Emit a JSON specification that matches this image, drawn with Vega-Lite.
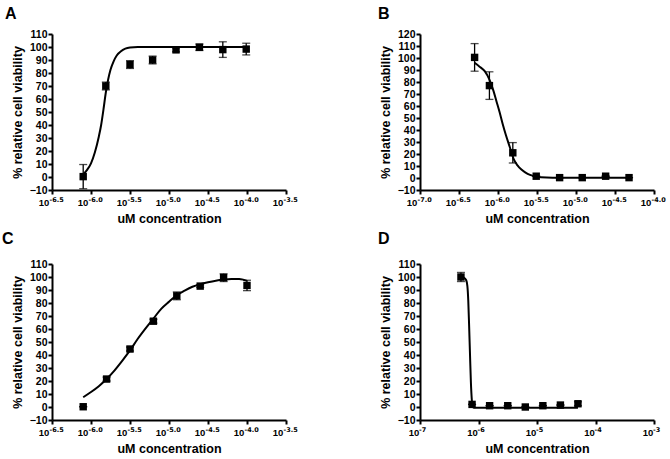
{
  "$schema": "https://vega.github.io/schema/vega-lite/v6.json",
  "background": "white",
  "padding": {"left": 2, "top": 5, "right": 5, "bottom": 5},
  "config": {
    "view": {"stroke": null},
    "font": "Liberation Sans",
    "axis": {
      "grid": false,
      "domainColor": "black",
      "domainWidth": 2,
      "tickColor": "black",
      "tickWidth": 2,
      "tickSize": 4,
      "labelFont": "Liberation Sans",
      "labelFontWeight": "bold",
      "labelFontSize": 10.5,
      "labelColor": "black",
      "labelPadding": 1,
      "titleFont": "Liberation Sans",
      "titleFontWeight": "bold",
      "titleFontSize": 12.5,
      "titleColor": "black"
    },
    "axisX": {"labelPadding": 3, "titlePadding": 6, "labelFlush": false, "labelOverlap": false, "labelFontSize": 9.5, "labelExpr": "'10'"},
    "axisY": {"titlePadding": 5, "labelOverlap": false},
    "title": {"font": "Liberation Sans", "fontSize": 16, "fontWeight": "bold", "anchor": "start", "frame": "group", "color": "black"}
  },
  "datasets": {
    "pts": [
      {"panel": "A", "logc": -6.1, "v": 0.3, "err": 9.3},
      {"panel": "A", "logc": -5.81, "v": 70, "err": 3},
      {"panel": "A", "logc": -5.5, "v": 86.5, "err": 3},
      {"panel": "A", "logc": -5.21, "v": 90, "err": 3},
      {"panel": "A", "logc": -4.91, "v": 97.8, "err": 1.5},
      {"panel": "A", "logc": -4.61, "v": 99.8, "err": 2.5},
      {"panel": "A", "logc": -4.31, "v": 98, "err": 6},
      {"panel": "A", "logc": -4.01, "v": 98.4, "err": 4.5},
      {"panel": "B", "logc": -6.3, "v": 100.5, "err": 11.5},
      {"panel": "B", "logc": -6.11, "v": 77, "err": 11.5},
      {"panel": "B", "logc": -5.81, "v": 21, "err": 8.5},
      {"panel": "B", "logc": -5.51, "v": 1.5, "err": 0},
      {"panel": "B", "logc": -5.21, "v": 0.3, "err": 0},
      {"panel": "B", "logc": -4.92, "v": 0.3, "err": 0},
      {"panel": "B", "logc": -4.62, "v": 1.5, "err": 0},
      {"panel": "B", "logc": -4.32, "v": 0.3, "err": 0},
      {"panel": "C", "logc": -6.1, "v": 0.2, "err": 0},
      {"panel": "C", "logc": -5.8, "v": 21.5, "err": 1.5},
      {"panel": "C", "logc": -5.5, "v": 44.6, "err": 1.5},
      {"panel": "C", "logc": -5.2, "v": 66, "err": 1.5},
      {"panel": "C", "logc": -4.9, "v": 85.5, "err": 3},
      {"panel": "C", "logc": -4.6, "v": 93, "err": 1},
      {"panel": "C", "logc": -4.3, "v": 99.5, "err": 3},
      {"panel": "C", "logc": -4.0, "v": 93.5, "err": 4},
      {"panel": "D", "logc": -6.3, "v": 100, "err": 3.5},
      {"panel": "D", "logc": -6.11, "v": 2, "err": 0},
      {"panel": "D", "logc": -5.81, "v": 1, "err": 0},
      {"panel": "D", "logc": -5.5, "v": 1, "err": 0},
      {"panel": "D", "logc": -5.2, "v": 0, "err": 0},
      {"panel": "D", "logc": -4.9, "v": 1, "err": 0},
      {"panel": "D", "logc": -4.6, "v": 1.5, "err": 0},
      {"panel": "D", "logc": -4.3, "v": 2.5, "err": 1.5}
    ],
    "curve": [
      {"panel": "A", "logc": -6.1, "v": 2},
      {"panel": "A", "logc": -6.05, "v": 5.5},
      {"panel": "A", "logc": -6.0, "v": 10.5},
      {"panel": "A", "logc": -5.95, "v": 19},
      {"panel": "A", "logc": -5.9, "v": 31},
      {"panel": "A", "logc": -5.87, "v": 40},
      {"panel": "A", "logc": -5.84, "v": 52},
      {"panel": "A", "logc": -5.81, "v": 65},
      {"panel": "A", "logc": -5.78, "v": 75},
      {"panel": "A", "logc": -5.75, "v": 82.5},
      {"panel": "A", "logc": -5.71, "v": 89},
      {"panel": "A", "logc": -5.67, "v": 93.5},
      {"panel": "A", "logc": -5.62, "v": 96.5},
      {"panel": "A", "logc": -5.56, "v": 98.7},
      {"panel": "A", "logc": -5.5, "v": 99.6},
      {"panel": "A", "logc": -5.4, "v": 100},
      {"panel": "A", "logc": -4.0, "v": 100},
      {"panel": "B", "logc": -6.3, "v": 96},
      {"panel": "B", "logc": -6.24, "v": 93},
      {"panel": "B", "logc": -6.17, "v": 89},
      {"panel": "B", "logc": -6.11, "v": 82},
      {"panel": "B", "logc": -6.06, "v": 73},
      {"panel": "B", "logc": -6.02, "v": 64},
      {"panel": "B", "logc": -5.98, "v": 55},
      {"panel": "B", "logc": -5.94, "v": 45},
      {"panel": "B", "logc": -5.9, "v": 36},
      {"panel": "B", "logc": -5.85, "v": 26},
      {"panel": "B", "logc": -5.8, "v": 16},
      {"panel": "B", "logc": -5.75, "v": 10.5},
      {"panel": "B", "logc": -5.7, "v": 7},
      {"panel": "B", "logc": -5.62, "v": 3.5},
      {"panel": "B", "logc": -5.55, "v": 1.8},
      {"panel": "B", "logc": -5.45, "v": 0.7},
      {"panel": "B", "logc": -5.3, "v": 0.3},
      {"panel": "B", "logc": -4.32, "v": 0.3},
      {"panel": "C", "logc": -6.1, "v": 7.5},
      {"panel": "C", "logc": -6.0, "v": 11.5},
      {"panel": "C", "logc": -5.9, "v": 16},
      {"panel": "C", "logc": -5.8, "v": 21.5},
      {"panel": "C", "logc": -5.7, "v": 28},
      {"panel": "C", "logc": -5.6, "v": 35.5},
      {"panel": "C", "logc": -5.5, "v": 43.5},
      {"panel": "C", "logc": -5.4, "v": 52.5},
      {"panel": "C", "logc": -5.3, "v": 60.5},
      {"panel": "C", "logc": -5.2, "v": 68},
      {"panel": "C", "logc": -5.1, "v": 75.5},
      {"panel": "C", "logc": -5.0, "v": 81},
      {"panel": "C", "logc": -4.9, "v": 86},
      {"panel": "C", "logc": -4.8, "v": 89.5},
      {"panel": "C", "logc": -4.7, "v": 92.5},
      {"panel": "C", "logc": -4.6, "v": 94.5},
      {"panel": "C", "logc": -4.5, "v": 96},
      {"panel": "C", "logc": -4.4, "v": 97.2},
      {"panel": "C", "logc": -4.3, "v": 98},
      {"panel": "C", "logc": -4.2, "v": 98.5},
      {"panel": "C", "logc": -4.1, "v": 98.5},
      {"panel": "C", "logc": -4.05, "v": 98},
      {"panel": "C", "logc": -4.0, "v": 97},
      {"panel": "D", "logc": -6.3, "v": 100},
      {"panel": "D", "logc": -6.25, "v": 99.5},
      {"panel": "D", "logc": -6.21, "v": 97.5},
      {"panel": "D", "logc": -6.19, "v": 93},
      {"panel": "D", "logc": -6.175, "v": 82},
      {"panel": "D", "logc": -6.16, "v": 62},
      {"panel": "D", "logc": -6.145, "v": 40},
      {"panel": "D", "logc": -6.13, "v": 19},
      {"panel": "D", "logc": -6.115, "v": 6},
      {"panel": "D", "logc": -6.1, "v": 0.5},
      {"panel": "D", "logc": -6.08, "v": -0.5},
      {"panel": "D", "logc": -4.3, "v": -0.5}
    ],
    "expos": [
      {"panel": "A", "logc": -6.5, "lab": "-6.5", "base": -10},
      {"panel": "A", "logc": -6.0, "lab": "-6.0", "base": -10},
      {"panel": "A", "logc": -5.5, "lab": "-5.5", "base": -10},
      {"panel": "A", "logc": -5.0, "lab": "-5.0", "base": -10},
      {"panel": "A", "logc": -4.5, "lab": "-4.5", "base": -10},
      {"panel": "A", "logc": -4.0, "lab": "-4.0", "base": -10},
      {"panel": "A", "logc": -3.5, "lab": "-3.5", "base": -10},
      {"panel": "B", "logc": -7.0, "lab": "-7.0", "base": -10},
      {"panel": "B", "logc": -6.5, "lab": "-6.5", "base": -10},
      {"panel": "B", "logc": -6.0, "lab": "-6.0", "base": -10},
      {"panel": "B", "logc": -5.5, "lab": "-5.5", "base": -10},
      {"panel": "B", "logc": -5.0, "lab": "-5.0", "base": -10},
      {"panel": "B", "logc": -4.5, "lab": "-4.5", "base": -10},
      {"panel": "B", "logc": -4.0, "lab": "-4.0", "base": -10},
      {"panel": "C", "logc": -6.5, "lab": "-6.5", "base": -10},
      {"panel": "C", "logc": -6.0, "lab": "-6.0", "base": -10},
      {"panel": "C", "logc": -5.5, "lab": "-5.5", "base": -10},
      {"panel": "C", "logc": -5.0, "lab": "-5.0", "base": -10},
      {"panel": "C", "logc": -4.5, "lab": "-4.5", "base": -10},
      {"panel": "C", "logc": -4.0, "lab": "-4.0", "base": -10},
      {"panel": "C", "logc": -3.5, "lab": "-3.5", "base": -10},
      {"panel": "D", "logc": -7, "lab": "-7", "base": -10},
      {"panel": "D", "logc": -6, "lab": "-6", "base": -10},
      {"panel": "D", "logc": -5, "lab": "-5", "base": -10},
      {"panel": "D", "logc": -4, "lab": "-4", "base": -10},
      {"panel": "D", "logc": -3, "lab": "-3", "base": -10}
    ]
  },
  "columns": 2,
  "spacing": {"row": 74, "column": 134},
  "bounds": "flush",
  "align": "all",
  "concat": [
    {
      "width": 234, "height": 156,
      "title": {"text": "A", "dx": -47, "offset": 7.5},
      "encoding": {
        "x": {"field": "logc", "type": "quantitative", "title": "uM concentration", "scale": {"domain": [-6.5, -3.5], "nice": false, "zero": false},
              "axis": {"values": [-6.5, -6, -5.5, -5, -4.5, -4, -3.5], "labelOffset": -8.5}},
        "y": {"field": "v", "type": "quantitative", "title": "% relative cell viability", "scale": {"domain": [-10, 110], "nice": false, "zero": false},
              "axis": {"values": [-10, 0, 10, 20, 30, 40, 50, 60, 70, 80, 90, 100, 110]}}
      },
      "layer": [
        {"data": {"name": "curve"}, "transform": [{"filter": "datum.panel === 'A'"}],
         "mark": {"type": "line", "color": "black", "strokeWidth": 2, "interpolate": "monotone"}},
        {"data": {"name": "pts"}, "transform": [{"filter": "datum.panel === 'A'"}],
         "mark": {"type": "errorbar", "ticks": {"size": 8}, "thickness": 1.3, "color": "black"},
         "encoding": {"yError": {"field": "err"}}},
        {"data": {"name": "pts"}, "transform": [{"filter": "datum.panel === 'A'"}],
         "mark": {"type": "point", "shape": "square", "filled": true, "color": "black", "opacity": 1, "size": 55}},
        {"data": {"name": "expos"}, "transform": [{"filter": "datum.panel === 'A'"}],
         "mark": {"type": "text", "align": "left", "baseline": "top", "dx": -2.5, "dy": 6.5, "font": "DejaVu Sans", "fontWeight": "bold", "fontSize": 6.5, "color": "black"},
         "encoding": {"y": {"field": "base", "type": "quantitative", "title": "% relative cell viability"}, "text": {"field": "lab", "type": "nominal"}}}
      ]
    },
    {
      "width": 234, "height": 156,
      "title": {"text": "B", "dx": -42, "offset": 7.5},
      "encoding": {
        "x": {"field": "logc", "type": "quantitative", "title": "uM concentration", "scale": {"domain": [-7, -4], "nice": false, "zero": false},
              "axis": {"values": [-7, -6.5, -6, -5.5, -5, -4.5, -4], "labelOffset": -8.5}},
        "y": {"field": "v", "type": "quantitative", "title": "% relative cell viability", "scale": {"domain": [-10, 120], "nice": false, "zero": false},
              "axis": {"values": [-10, 0, 10, 20, 30, 40, 50, 60, 70, 80, 90, 100, 110, 120]}}
      },
      "layer": [
        {"data": {"name": "curve"}, "transform": [{"filter": "datum.panel === 'B'"}],
         "mark": {"type": "line", "color": "black", "strokeWidth": 2, "interpolate": "monotone"}},
        {"data": {"name": "pts"}, "transform": [{"filter": "datum.panel === 'B'"}],
         "mark": {"type": "errorbar", "ticks": {"size": 8}, "thickness": 1.3, "color": "black"},
         "encoding": {"yError": {"field": "err"}}},
        {"data": {"name": "pts"}, "transform": [{"filter": "datum.panel === 'B'"}],
         "mark": {"type": "point", "shape": "square", "filled": true, "color": "black", "opacity": 1, "size": 55}},
        {"data": {"name": "expos"}, "transform": [{"filter": "datum.panel === 'B'"}],
         "mark": {"type": "text", "align": "left", "baseline": "top", "dx": -2.5, "dy": 6.5, "font": "DejaVu Sans", "fontWeight": "bold", "fontSize": 6.5, "color": "black"},
         "encoding": {"y": {"field": "base", "type": "quantitative", "title": "% relative cell viability"}, "text": {"field": "lab", "type": "nominal"}}}
      ]
    },
    {
      "width": 234, "height": 156,
      "title": {"text": "C", "dx": -50, "offset": 12.5},
      "encoding": {
        "x": {"field": "logc", "type": "quantitative", "title": "uM concentration", "scale": {"domain": [-6.5, -3.5], "nice": false, "zero": false},
              "axis": {"values": [-6.5, -6, -5.5, -5, -4.5, -4, -3.5], "labelOffset": -8.5}},
        "y": {"field": "v", "type": "quantitative", "title": "% relative cell viability", "scale": {"domain": [-10, 110], "nice": false, "zero": false},
              "axis": {"values": [-10, 0, 10, 20, 30, 40, 50, 60, 70, 80, 90, 100, 110]}}
      },
      "layer": [
        {"data": {"name": "curve"}, "transform": [{"filter": "datum.panel === 'C'"}],
         "mark": {"type": "line", "color": "black", "strokeWidth": 2, "interpolate": "monotone"}},
        {"data": {"name": "pts"}, "transform": [{"filter": "datum.panel === 'C'"}],
         "mark": {"type": "errorbar", "ticks": {"size": 8}, "thickness": 1.3, "color": "black"},
         "encoding": {"yError": {"field": "err"}}},
        {"data": {"name": "pts"}, "transform": [{"filter": "datum.panel === 'C'"}],
         "mark": {"type": "point", "shape": "square", "filled": true, "color": "black", "opacity": 1, "size": 55}},
        {"data": {"name": "expos"}, "transform": [{"filter": "datum.panel === 'C'"}],
         "mark": {"type": "text", "align": "left", "baseline": "top", "dx": -2.5, "dy": 6.5, "font": "DejaVu Sans", "fontWeight": "bold", "fontSize": 6.5, "color": "black"},
         "encoding": {"y": {"field": "base", "type": "quantitative", "title": "% relative cell viability"}, "text": {"field": "lab", "type": "nominal"}}}
      ]
    },
    {
      "width": 234, "height": 156,
      "title": {"text": "D", "dx": -42, "offset": 12.5},
      "encoding": {
        "x": {"field": "logc", "type": "quantitative", "title": "uM concentration", "scale": {"domain": [-7, -3], "nice": false, "zero": false},
              "axis": {"values": [-7, -6, -5, -4, -3], "labelOffset": -6.5}},
        "y": {"field": "v", "type": "quantitative", "title": "% relative cell viability", "scale": {"domain": [-10, 110], "nice": false, "zero": false},
              "axis": {"values": [-10, 0, 10, 20, 30, 40, 50, 60, 70, 80, 90, 100, 110]}}
      },
      "layer": [
        {"data": {"name": "curve"}, "transform": [{"filter": "datum.panel === 'D'"}],
         "mark": {"type": "line", "color": "black", "strokeWidth": 2, "interpolate": "monotone"}},
        {"data": {"name": "pts"}, "transform": [{"filter": "datum.panel === 'D'"}],
         "mark": {"type": "errorbar", "ticks": {"size": 8}, "thickness": 1.3, "color": "black"},
         "encoding": {"yError": {"field": "err"}}},
        {"data": {"name": "pts"}, "transform": [{"filter": "datum.panel === 'D'"}],
         "mark": {"type": "point", "shape": "square", "filled": true, "color": "black", "opacity": 1, "size": 55}},
        {"data": {"name": "expos"}, "transform": [{"filter": "datum.panel === 'D'"}],
         "mark": {"type": "text", "align": "left", "baseline": "top", "dx": -1, "dy": 6.5, "font": "DejaVu Sans", "fontWeight": "bold", "fontSize": 6.5, "color": "black"},
         "encoding": {"y": {"field": "base", "type": "quantitative", "title": "% relative cell viability"}, "text": {"field": "lab", "type": "nominal"}}}
      ]
    }
  ]
}
